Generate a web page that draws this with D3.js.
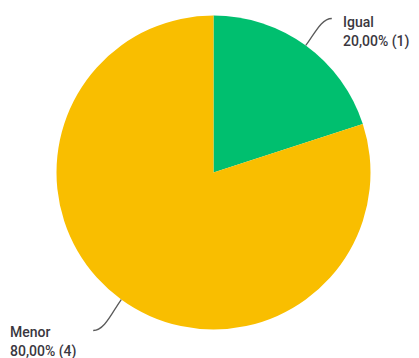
<!DOCTYPE html>
<html>
<head>
<meta charset="utf-8">
<script src="https://cdn.jsdelivr.net/npm/d3@7/dist/d3.min.js"></script>
<style>
  html, body { margin: 0; padding: 0; background: #fff; }
  svg { display: block; }
  .lbl { font-family: Roboto, "Noto Sans", sans-serif; font-size: 14px; font-weight: 500; fill: #3a3740; }
</style>
</head>
<body>
<svg id="chart" width="419" height="358"></svg>
<script>
// Answer options and response counts
const categories = ["Igual", "Menor"];
const counts = [1, 4];
const percentLabels = ["20,00%", "80,00%"];
const colors = ["#00BF6F", "#F9BE00"];

const width = 419, height = 358;
const cx = 213.5, cy = 172.5, radius = 157;

const svg = d3.select("#chart");
const g = svg.append("g").attr("transform", `translate(${cx},${cy})`);

const pie = d3.pie().sort(null).value(d => d)(counts);
const arc = d3.arc().innerRadius(0).outerRadius(radius);

g.selectAll("path.slice")
  .data(pie)
  .join("path")
  .attr("class", "slice")
  .attr("d", arc)
  .attr("fill", (d, i) => colors[i]);

// Curved connectors from the slice edge out to each label
const labelSpecs = [
  { dx: 26, dy: -27, tx: 343, ty: 27, side: 1 },
  { dx: -28, dy: 31, tx: 10, ty: 337, side: -1 }
];

pie.forEach((d, i) => {
  const mid = (d.startAngle + d.endAngle) / 2;
  const x0 = Math.sin(mid) * radius;
  const y0 = -Math.cos(mid) * radius;
  const s = labelSpecs[i];
  const x1 = x0 + s.dx, y1 = y0 + s.dy;
  const path = d3.path();
  path.moveTo(x0, y0);
  path.bezierCurveTo(x0 + s.dx * 0.35, y0 + s.dy * 0.45,
                     x0 + s.dx * 0.6, y1,
                     x1, y1);
  g.append("path")
    .attr("d", path.toString())
    .attr("fill", "none")
    .attr("stroke", "#5a5a5a")
    .attr("stroke-width", 1.3);

  const t = svg.append("text").attr("class", "lbl")
    .attr("x", s.tx).attr("y", s.ty);
  t.append("tspan").attr("x", s.tx).text(categories[i]);
  t.append("tspan").attr("x", s.tx).attr("dy", 19)
    .text(`${percentLabels[i]} (${counts[i]})`);
});
</script>
</body>
</html>
